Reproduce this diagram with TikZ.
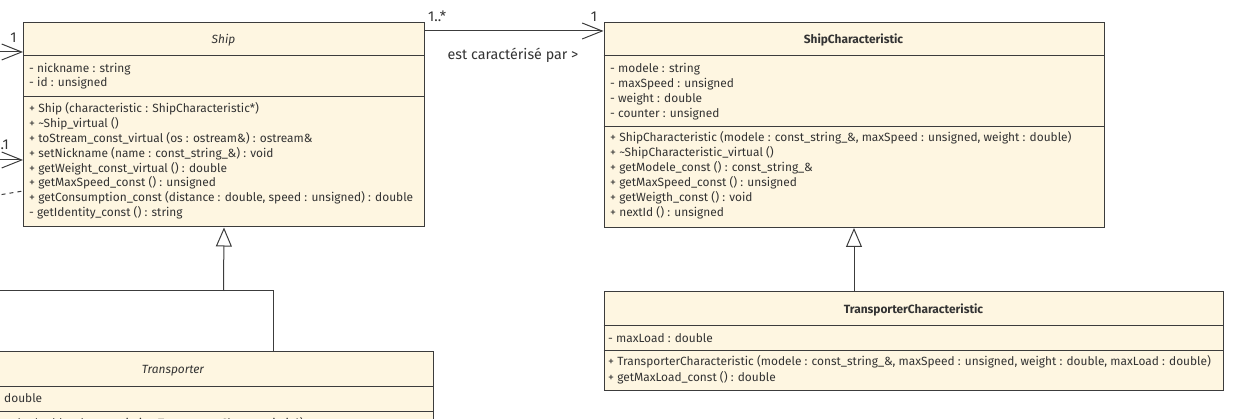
\documentclass[tikz,border=0pt]{standalone}
\usepackage{fontspec}
\setmainfont{Fira Sans}
\usetikzlibrary{arrows.meta}
\definecolor{boxfill}{RGB}{254,246,225}
\definecolor{edgecol}{RGB}{60,60,60}
\definecolor{textcol}{RGB}{51,51,51}
\newcommand{\memberfont}{\fontsize{11.9}{14}\selectfont}
\newcommand{\labelfont}{\fontsize{14.3}{16}\selectfont}
\tikzset{
  classbox/.style={draw=edgecol, fill=boxfill, line width=1pt, anchor=north west, inner sep=0pt},
  member/.style={anchor=base west, inner sep=0pt, text=textcol, font=\memberfont},
  classname/.style={anchor=base, inner sep=0pt, text=textcol},
  mult/.style={anchor=base, inner sep=0pt, text=textcol, font=\labelfont},
  assoc/.style={draw=edgecol, line width=1pt, -{Straight Barb[length=20pt,width=16pt]}},
  inherit/.style={draw=edgecol, line width=1pt, -{Triangle[open,length=19pt,width=16pt]}},
  sepline/.style={draw=edgecol, line width=1pt},
}
\begin{document}
\begin{tikzpicture}[x=1pt, y=-1pt]
\useasboundingbox (0,0) rectangle (1235,419);
\clip (0,0) rectangle (1235,419);

% class boxes
\node[classbox, minimum width=401pt, minimum height=204.5pt] (ship) at (23,22) {};
\node[classbox, minimum width=500pt, minimum height=205pt] (shipchar) at (603.5,22) {};
\node[classbox, minimum width=619.5pt, minimum height=99pt] (transchar) at (603.5,291) {};
\node[classbox, minimum width=520pt, minimum height=100pt] (transp) at (-87,351) {};

% compartments
\draw[sepline] ([yshift=-34pt]ship.north west) -- ([yshift=-34pt]ship.north east);
\draw[sepline] ([yshift=-74.5pt]ship.north west) -- ([yshift=-74.5pt]ship.north east);
\draw[sepline] ([yshift=-34pt]shipchar.north west) -- ([yshift=-34pt]shipchar.north east);
\draw[sepline] ([yshift=-104.5pt]shipchar.north west) -- ([yshift=-104.5pt]shipchar.north east);
\draw[sepline] ([yshift=-34.5pt]transchar.north west) -- ([yshift=-34.5pt]transchar.north east);
\draw[sepline] ([yshift=-60pt]transchar.north west) -- ([yshift=-60pt]transchar.north east);
\draw[sepline] ([yshift=-35.5pt]transp.north west) -- ([yshift=-35.5pt]transp.north east);
\draw[sepline] ([yshift=-60.5pt]transp.north west) -- ([yshift=-60.5pt]transp.north east);

% names
\node[classname, font=\memberfont\itshape] (shipname) at (223.5,43.5) {Ship};
\node[classname, font=\memberfont\bfseries] (shipcharname) at (853.5,43.5) {ShipCharacteristic};
\node[classname, font=\memberfont\bfseries] (transcharname) at (913.5,313.5) {TransporterCharacteristic};
\node[classname, font=\memberfont\itshape] (transpname) at (173,373.5) {Transporter};

% Ship
\foreach \m [count=\i] in {{- nickname : string},{- id : unsigned}}
  \node[member] (shipa\i) at (29,{72.5+14.5*(\i-1)}) {\m};
\foreach \m [count=\i] in {{+ Ship (characteristic : ShipCharacteristic*)},
    {+ \textasciitilde Ship\_virtual ()},
    {+ toStream\_const\_virtual (os : ostream\&) : ostream\&},
    {+ setNickname (name : const\_string\_\&) : void},
    {+ getWeight\_const\_virtual () : double},
    {+ getMaxSpeed\_const () : unsigned},
    {+ getConsumption\_const (distance : double, speed : unsigned) : double},
    {- getIdentity\_const () : string}}
  \node[member] (shipm\i) at (29,{112.5+14.9*(\i-1)}) {\m};

% ShipCharacteristic
\foreach \m [count=\i] in {{- modele : string},{- maxSpeed : unsigned},
    {- weight : double},{- counter : unsigned}}
  \node[member] (shipchara\i) at (610,{72.5+14.9*(\i-1)}) {\m};
\foreach \m [count=\i] in {{+ ShipCharacteristic (modele : const\_string\_\&, maxSpeed : unsigned, weight : double)},
    {+ \textasciitilde ShipCharacteristic\_virtual ()},
    {+ getModele\_const () : const\_string\_\&},
    {+ getMaxSpeed\_const () : unsigned},
    {+ getWeigth\_const () : void},
    {+ nextId () : unsigned}}
  \node[member] (shipcharm\i) at (610,{141.5+15*(\i-1)}) {\m};

% TransporterCharacteristic
\node[member] (transchara1) at (608,342.5) {- maxLoad : double};
\node[member] (transcharm1) at (608,366) {+ TransporterCharacteristic (modele : const\_string\_\&, maxSpeed : unsigned, weight : double, maxLoad : double)};
\node[member] (transcharm2) at (608,382) {+ getMaxLoad\_const () : double};

% Transporter
\node[member] (transpa1) at (4,402.5) {double};
\node[member] (transpm1) at (-82,428) {+ Transporter (load : double, characteristic : TransporterCharacteristic*)};

% association
\draw[assoc] ([yshift=-9pt]ship.north east) -- ([yshift=-9pt]shipchar.north west);
\node[mult, anchor=base west] (multa) at (428,21.5) {1..*};
\node[mult] (multb) at (594,21.5) {1};
\node[mult] (assocname) at (513,59.5) {est caractérisé par >};

% inheritance
\draw[inherit] (shipchar.south |- transchar.north) -- (shipchar.south);
\coordinate (join) at (223.5,291);
\coordinate (sibling) at (-10,291);
\draw[inherit] (join) -- (ship.south);
\draw[sepline] ([xshift=100pt]transp.north) |- (join);
\draw[sepline] (sibling) -- (join);

% links coming from the left
\coordinate (lefta) at (-20,52);
\coordinate (leftb) at (-20,160);
\coordinate (leftc) at (-30,199.8);
\draw[assoc] (lefta) -- (ship.west |- lefta);
\draw[assoc] (leftb) -- (ship.west |- leftb);
\draw[sepline, dash pattern=on 4pt off 4pt] (leftc) -- ([yshift=-169pt]ship.north west);
\node[mult] (multc) at (13.5,43) {1};
\node[mult, anchor=base east] (multd) at (9,150) {0..1};
\end{tikzpicture}
\end{document}
